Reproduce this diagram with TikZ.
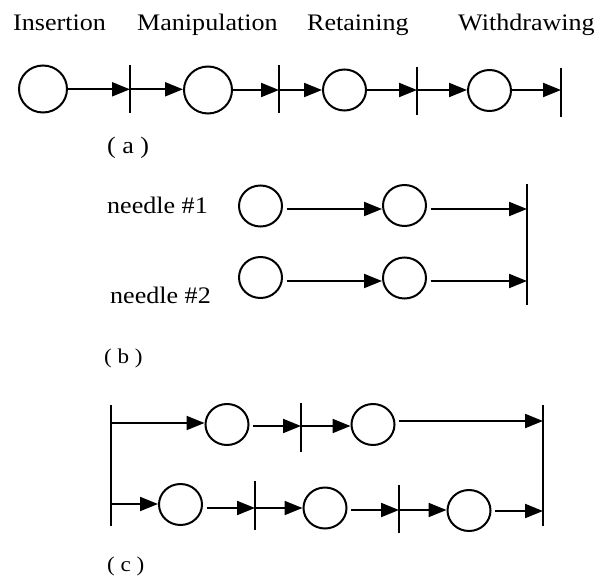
\documentclass[tikz,border=0pt]{standalone}
\usepackage{fontspec}
\setmainfont[FakeStretch=1.1]{Liberation Serif}
\usetikzlibrary{arrows.meta,shapes.geometric}
\begin{document}
\begin{tikzpicture}[x=1pt,y=-1pt,
  state/.style={draw, ellipse, inner sep=0pt, minimum width=43pt, minimum height=41pt, line width=2pt},
  bigstate/.style={state, minimum width=48pt, minimum height=47pt},
  flow/.style={line width=2pt, -{Triangle[length=18pt,width=14pt]}},
  gap/.style={shorten <=3.5pt},
  barline/.style={line width=2.3pt},
  lbl/.style={inner sep=0pt, anchor=base west, font=\fontsize{23.7}{28}\selectfont},
  sublbl/.style={lbl, font=\fontsize{21}{25}\selectfont}]
\useasboundingbox (0,0) rectangle (610,578);

% phase headings
\node[lbl] (hIns) at (13,31) {Insertion};
\node[lbl] (hMan) at (137,31) {Manipulation};
\node[lbl] (hRet) at (307,30.5) {Retaining};
\node[lbl] (hWit) at (458,30.5) {Withdrawing};

% ---- (a) single needle, sequential phases
\node[bigstate] (a1) at (43,89) {};
\node[bigstate] (a2) at (208,90) {};
\node[state] (a3) at (344.5,90) {};
\node[state] (a4) at (489.5,90.5) {};
\coordinate (ta1t) at (130,65);  \coordinate (ta1b) at (130,113);
\coordinate (ta2t) at (279,65);  \coordinate (ta2b) at (279,113);
\coordinate (ta3t) at (417,67);  \coordinate (ta3b) at (417,115);
\coordinate (ta4t) at (561,68);  \coordinate (ta4b) at (561,117);
\coordinate (ja1) at (130,89.3);
\coordinate (ja2) at (279,90);
\coordinate (ja3) at (417,90);
\coordinate (ja4) at (561,90);
\foreach \b in {1,2,3,4} \draw[barline] (ta\b t) -- (ta\b b);
\draw[flow] (a1.east |- ja1) -- (ja1);
\draw[flow] (ja1) -- (a2.west |- ja1);
\draw[flow] (a2.east |- ja2) -- (ja2);
\draw[flow] (ja2) -- (a3.west |- ja2);
\draw[flow] (a3.east |- ja3) -- (ja3);
\draw[flow] (ja3) -- (a4.west |- ja3);
\draw[flow] (a4.east |- ja4) -- (ja4);
\node[lbl] (la) at (107,153) {( a )};

% ---- (b) two needles in parallel
\node[lbl] (nd1) at (107,213) {needle \#1};
\node[lbl] (nd2) at (110,303) {needle \#2};
\node[state] (n1a) at (260.5,206) {};
\node[state] (n1b) at (404.5,205.5) {};
\node[state] (n2a) at (260.5,277.5) {};
\node[state] (n2b) at (404.5,278) {};
\coordinate (tbt) at (527,184); \coordinate (tbb) at (527,305);
\coordinate (jb1) at (527,209);
\coordinate (jb2) at (527,281);
\draw[barline] (tbt) -- (tbb);
\draw[flow,gap] (n1a.east |- jb1) -- (n1b.west |- jb1);
\draw[flow,gap] (n1b.east |- jb1) -- (jb1);
\draw[flow,gap] (n2a.east |- jb2) -- (n2b.west |- jb2);
\draw[flow,gap] (n2b.east |- jb2) -- (jb2);
\node[sublbl] (lb) at (104,363) {( b )};

% ---- (c) fork and join of two branches
\coordinate (tlt) at (111,405); \coordinate (tlb) at (111,526);
\coordinate (trt) at (543,405); \coordinate (trb) at (543,526);
\coordinate (tmt) at (301,403); \coordinate (tmb) at (301,452);
\coordinate (tn1t) at (255,481); \coordinate (tn1b) at (255,530);
\coordinate (tn2t) at (399,485); \coordinate (tn2b) at (399,533);
\foreach \b in {tl,tr,tm,tn1,tn2} \draw[barline] (\b t) -- (\b b);
\coordinate (jl1) at (111,423);
\coordinate (jl2) at (111,504);
\coordinate (jm) at (301,426);
\coordinate (jr1) at (543,421);
\coordinate (jd1) at (255,508);
\coordinate (jd2) at (399,510);
\coordinate (jr2) at (543,511);
\node[state] (c1) at (227,424.5) {};
\node[state] (c2) at (373,424.5) {};
\node[state] (d1) at (180.5,504.5) {};
\node[state] (d2) at (325,508) {};
\node[state] (d3) at (469,510.5) {};
\draw[flow] (jl1) -- (c1.west |- jl1);
\draw[flow,gap] (c1.east |- jm) -- (jm);
\draw[flow] (jm) -- (c2.west |- jm);
\draw[flow,gap] (c2.east |- jr1) -- (jr1);
\draw[flow] (jl2) -- (d1.west |- jl2);
\draw[flow,gap] (d1.east |- jd1) -- (jd1);
\draw[flow] (jd1) -- (d2.west |- jd1);
\draw[flow,gap] (d2.east |- jd2) -- (jd2);
\draw[flow] (jd2) -- (d3.west |- jd2);
\draw[flow,gap] (d3.east |- jr2) -- (jr2);
\node[sublbl] (lc) at (107,571) {( c )};
\end{tikzpicture}
\end{document}
